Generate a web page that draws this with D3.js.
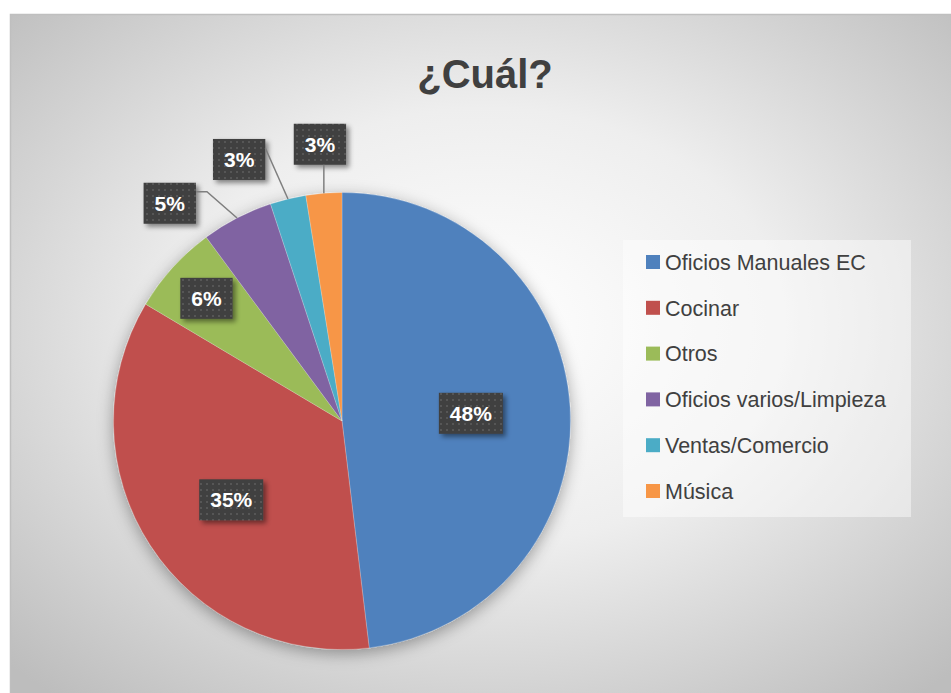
<!DOCTYPE html>
<html>
<head>
<meta charset="utf-8">
<script src="https://cdn.jsdelivr.net/npm/d3@7"></script>
<style>
  body { margin: 0; background: #fff; }
  text { font-family: "Liberation Sans", Arial, sans-serif; }
</style>
</head>
<body>
<div id="chart"></div>
<script>
// data (counts give 48/35/6/5/3/3 %)
var categories = ["Oficios Manuales EC", "Cocinar", "Otros", "Oficios varios/Limpieza", "Ventas/Comercio", "Música"];
var counts = [38, 28, 5, 4, 2, 2];
var colors = ["#4f81bd", "#c0504d", "#9bbb59", "#8064a2", "#4bacc6", "#f79646"];
var title = "¿Cuál?";

// label layout (multiples of radius, angle shift in degrees, elbow length)
var labelRadius = [0.565, 0.595, 0.8, 1.215, 1.23, 1.215];
var labelShift = [0, -2.4, 0, -11, -7.8, 0];
var leaderElbow = [0, 0, 0, 11, 0, 0];

var svgWidth = 951, svgHeight = 693;
var cx = 342, cy = 421, radius = 228.5;

var svg = d3.select("#chart").append("svg")
  .attr("width", svgWidth)
  .attr("height", svgHeight);

var defs = svg.append("defs");

var bg = defs.append("radialGradient").attr("id", "bg")
  .attr("cx", "50%").attr("cy", "45%").attr("r", "70%");
bg.append("stop").attr("offset", "0%").attr("stop-color", "#ffffff");
bg.append("stop").attr("offset", "45%").attr("stop-color", "#eeeeee");
bg.append("stop").attr("offset", "100%").attr("stop-color", "#bdbdbd");

var pieShadow = defs.append("filter").attr("id", "pieShadow")
  .attr("x", "-20%").attr("y", "-20%").attr("width", "140%").attr("height", "140%");
pieShadow.append("feDropShadow").attr("dx", 0).attr("dy", 4).attr("stdDeviation", 8)
  .attr("flood-color", "#000").attr("flood-opacity", 0.35);

var boxShadow = defs.append("filter").attr("id", "boxShadow")
  .attr("x", "-20%").attr("y", "-20%").attr("width", "150%").attr("height", "160%");
boxShadow.append("feDropShadow").attr("dx", 3).attr("dy", 3).attr("stdDeviation", 2.5)
  .attr("flood-color", "#000").attr("flood-opacity", 0.45);

var dots = defs.append("pattern").attr("id", "dots")
  .attr("patternUnits", "userSpaceOnUse").attr("width", 6).attr("height", 6);
dots.append("rect").attr("width", 6).attr("height", 6).attr("fill", "#3f3f3f");
dots.append("rect").attr("x", 2).attr("y", 2).attr("width", 2).attr("height", 2).attr("fill", "#575757");

// chart area
svg.append("rect")
  .attr("x", 10.5).attr("y", 14.5)
  .attr("width", svgWidth).attr("height", svgHeight)
  .attr("fill", "url(#bg)")
  .attr("stroke", "#bfbfbf").attr("stroke-width", 1.5);

svg.append("text")
  .attr("x", 485).attr("y", 88)
  .attr("text-anchor", "middle")
  .attr("font-size", 40).attr("font-weight", "bold")
  .attr("fill", "#404040")
  .text(title);

var total = d3.sum(counts);
var pie = d3.pie().sort(null).value(d => d);
var arcs = pie(counts);
var arc = d3.arc().innerRadius(0).outerRadius(radius);

var pieGroup = svg.append("g")
  .attr("transform", `translate(${cx}, ${cy})`);

pieGroup.append("g").attr("filter", "url(#pieShadow)")
  .selectAll("path")
  .data(arcs)
  .enter()
  .append("path")
  .attr("d", arc)
  .attr("fill", (d, i) => colors[i])
  .attr("stroke", "rgba(255,255,255,0.35)")
  .attr("stroke-width", 0.6);

// data labels
arcs.forEach((d, i) => {
  var mid = (d.startAngle + d.endAngle) / 2;
  var a = mid + labelShift[i] * Math.PI / 180;
  var k = labelRadius[i] * radius;
  var lx = k * Math.sin(a), ly = -k * Math.cos(a);
  var txt = Math.round(d.value / total * 100) + "%";

  var g = pieGroup.append("g");
  var t = g.append("text")
    .attr("x", lx).attr("y", ly)
    .attr("dy", "0.36em")
    .attr("text-anchor", "middle")
    .attr("font-size", 21).attr("font-weight", "bold")
    .attr("fill", "#ffffff")
    .text(txt);
  var w = t.node().getComputedTextLength() + 22, h = 41;
  var bx = lx - w / 2, by = ly - h / 2;
  g.insert("rect", "text")
    .attr("x", bx).attr("y", by)
    .attr("width", w).attr("height", h)
    .attr("fill", "url(#dots)")
    .attr("filter", "url(#boxShadow)");

  if (labelRadius[i] > 1) {
    var ex = radius * Math.sin(mid), ey = -radius * Math.cos(mid);
    var pts;
    if (ex > bx && ex < bx + w) {
      pts = [[ex, by + h], [ex, ey]];
    } else {
      var sx = bx + w, sy = by + 9;
      pts = [[sx, sy], [sx + leaderElbow[i], sy], [ex, ey]];
    }
    pieGroup.append("path")
      .attr("d", d3.line()(pts))
      .attr("fill", "none")
      .attr("stroke", "#7f7f7f")
      .attr("stroke-width", 1.5);
  }
});

// legend
var legend = svg.append("g").attr("transform", "translate(623, 240)");
legend.append("rect")
  .attr("width", 288).attr("height", 277)
  .attr("fill", "#ffffff").attr("fill-opacity", 0.45);

var items = legend.selectAll("g.item")
  .data(categories)
  .enter()
  .append("g")
  .attr("class", "item")
  .attr("transform", (d, i) => `translate(23, ${22 + i * 45.8})`);

items.append("rect")
  .attr("x", 0).attr("y", -7)
  .attr("width", 14).attr("height", 14)
  .attr("fill", (d, i) => colors[i]);

items.append("text")
  .attr("x", 19).attr("y", 0)
  .attr("dy", "0.36em")
  .attr("font-size", 21.5)
  .attr("fill", "#404040")
  .text(d => d);
</script>
</body>
</html>
